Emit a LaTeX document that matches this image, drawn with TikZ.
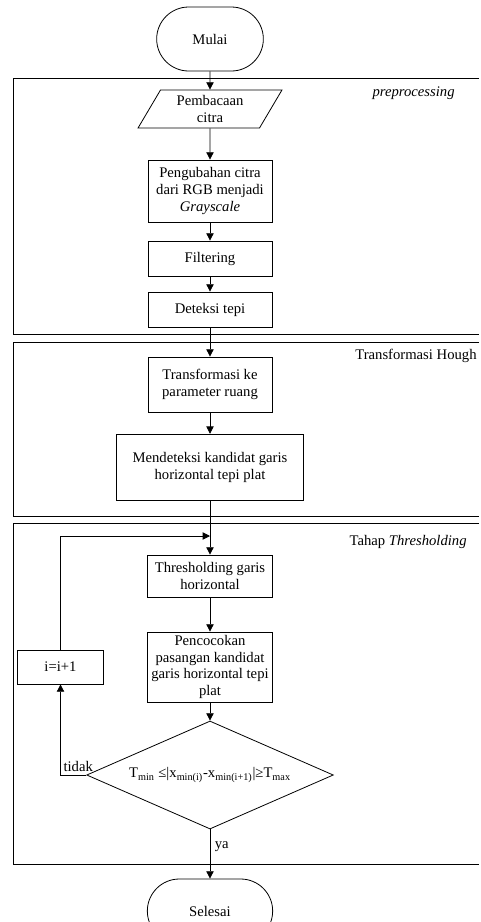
\documentclass[tikz,border=0pt]{standalone}
\usepackage{fontspec}
\setmainfont{Liberation Serif}
\usetikzlibrary{shapes,arrows.meta,positioning,calc}

\begin{document}
\begin{tikzpicture}[x=0.75pt, y=-0.75pt, line width=0.6pt,
    font=\fontsize{11}{12.5}\selectfont,
    process/.style={draw, rectangle, align=center, inner sep=1pt, minimum width=93pt},
    io/.style={draw, trapezium, trapezium left angle=62, trapezium right angle=118,
      trapezium stretches=true, align=center, inner sep=1pt, minimum width=108pt, minimum height=28.5pt},
    terminal/.style={draw, rectangle, rounded corners=24pt, minimum height=48pt, align=center},
    decision/.style={draw, diamond, aspect=2.29, inner sep=0pt, minimum width=185pt, minimum height=81pt},
    frame/.style={draw, line width=0.7pt},
    framelabel/.style={anchor=east, inner sep=0pt},
    flow/.style={-{Triangle[length=5.5pt,width=5.5pt]}}]
    \useasboundingbox (0,0) rectangle (481,922);

    % frames (right edge runs off the page)
    \draw[frame] (479,78) -| (13,334) -- (479,334);
    \draw[frame] (479,342) -| (13,516) -- (479,516);
    \draw[frame] (479,523) -| (13,864) -- (479,864);
    \node[framelabel] (lpre) at (455,93) {\textit{preprocessing}};
    \node[framelabel] (lhough) at (477,356) {Transformasi Hough};
    \node[framelabel] (lthres) at (467,542) {Tahap \textit{Thresholding}};

    % nodes
    \node[terminal, minimum width=80pt] (mulai) at (210,39) {Mulai};
    \node[io] (baca) at (210,109) {Pembacaan\\citra};
    \node[process, minimum height=46.5pt] (gray) at (210,191) {Pengubahan citra\\dari RGB menjadi\\\textit{Grayscale}};
    \node[process, minimum height=26.25pt] (filter) at (210,258.5) {Filtering};
    \node[process, minimum height=26.25pt] (tepi) at (210,309.5) {Deteksi tepi};
    \node[process, minimum height=41.25pt] (ruang) at (210,384.5) {Transformasi ke\\parameter ruang};
    \node[process, minimum width=140pt, minimum height=50pt] (kandidat) at (210,467.5) {Mendeteksi kandidat garis\\horizontal tepi plat};
    \node[process, minimum width=94pt, minimum height=31.5pt] (thres) at (210,576) {Thresholding garis\\horizontal};
    \node[process, minimum width=94pt, minimum height=52.5pt] (cocok) at (210,667) {Pencocokan\\pasangan kandidat\\garis horizontal tepi\\plat};
    \node[process, minimum width=64pt, minimum height=25.5pt] (inc) at (60.5,667) {i=i+1};
    \node[decision] (cek) at (210,775) {T\textsubscript{min} ≤|x\textsubscript{min(i)}-x\textsubscript{min(i+1)}|≥T\textsubscript{max}};
    \begin{scope}
      \clip (0,850) rectangle (481,922);
      \node[terminal, minimum width=94pt] (selesai) at (210,911) {Selesai};
    \end{scope}
    \coordinate (join) at (210,536);

    % connectors
    \draw[flow] (mulai) -- (baca);
    \draw[flow] (baca) -- (gray);
    \draw[flow] (gray) -- (filter);
    \draw[flow] (filter) -- (tepi);
    \draw[flow] (tepi) -- (ruang);
    \draw[flow] (ruang) -- (kandidat);
    \draw[flow] (kandidat) -- (thres);
    \draw[flow] (thres) -- (cocok);
    \draw[flow] (cocok) -- (cek);
    \draw[flow] (cek) -- node[right, pos=0.35] (lya) {ya} (selesai);
    \draw[flow] (cek.west) -| node[pos=0.5, above right, inner sep=2pt] (ltidak) {tidak} (inc.south);
    \draw[flow] (inc.north) |- (join);
\end{tikzpicture}
\end{document}
